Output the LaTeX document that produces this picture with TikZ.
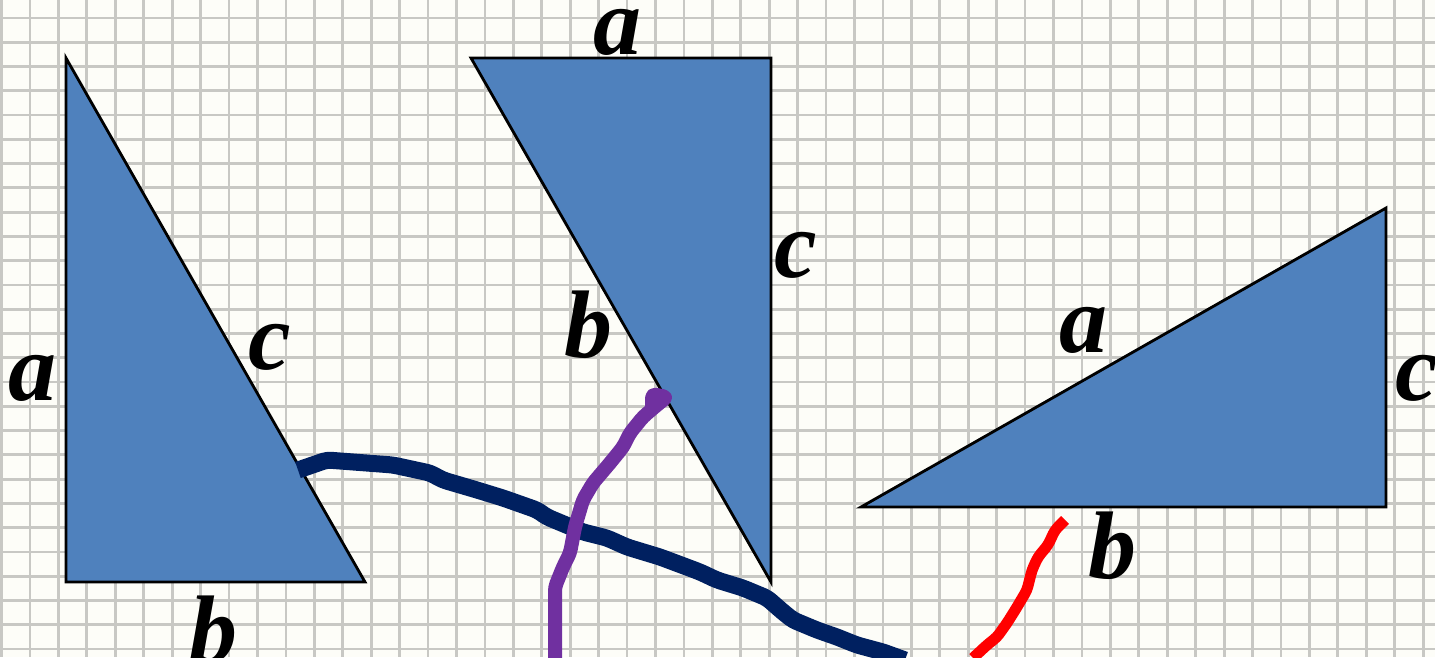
\documentclass[tikz,border=0pt]{standalone}
\usepackage{fontspec}
\setmainfont{Liberation Serif}
\definecolor{bgc}{RGB}{253,253,248}
\definecolor{gridc}{RGB}{200,200,196}
\definecolor{tri}{RGB}{79,129,189}
\definecolor{navy}{RGB}{0,32,96}
\definecolor{purp}{RGB}{112,48,160}
\tikzset{
  triangle/.style={fill=tri,draw=black,line width=2.8pt,line join=miter},
  lbl/.style={inner sep=0pt,font=\fontsize{96}{96}\selectfont\bfseries\itshape},
  stroke/.style={line width=#1,line cap=butt,line join=round,rounded corners=4pt}
}
\begin{document}
\begin{tikzpicture}[x=1pt,y=-1pt]
\useasboundingbox (0,0) rectangle (1435,657);
\fill[bgc] (0,0) rectangle (1435,657);
% grid
\foreach \k in {0,...,51} {
  \draw[gridc,line width=2.8pt] ({1.6+28.43*\k},0) -- ({1.6+28.43*\k},657);
}
\foreach \k in {0,...,27} {
  \draw[gridc,line width=2.8pt] (0,{18+24.27*\k}) -- (1435,{18+24.27*\k});
}
% triangles
\draw[triangle] (66,58) -- (66,582) -- (365,582) -- cycle;
\draw[triangle] (471,58) -- (771,58) -- (771,582) -- cycle;
\draw[triangle] (861,507) -- (1386,507) -- (1386,208) -- cycle;
% labels
\node[lbl] (t1a) at (33,378) {a};
\node[lbl] (t1c) at (270,347) {c};
\node[lbl] (t1b) at (213,630) {b};
\node[lbl] (t2a) at (617,32) {a};
\node[lbl] (t2c) at (796,255) {c};
\node[lbl] (t2b) at (588,325) {b};
\node[lbl] (t3a) at (1083,330) {a};
\node[lbl] (t3c) at (1417,378) {c};
\node[lbl] (t3b) at (1112,546) {b};
% freehand strokes
\draw[navy,stroke=17pt] (298,470) -- (327,460) -- (393,465) -- (430,473) -- (443,480) -- (477,490) -- (503,498) -- (537,510) -- (547,517) -- (583,532) -- (607,538) -- (627,547) -- (660,557) -- (700,572) -- (717,580) -- (743,588) -- (767,598) -- (783,612) -- (793,620) -- (817,630) -- (837,637) -- (857,645) -- (883,652) -- (905,660);
\draw[purp,stroke=14pt] (652,408) -- (652,394) -- (667,397) -- (657,405) -- (643,417) -- (630,433) -- (623,447) -- (610,463) -- (593,483) -- (583,500) -- (575,527) -- (570,553) -- (563,567) -- (555,587) -- (555,660);
\draw[red,stroke=11pt] (1065,520) -- (1055,530) -- (1048,545) -- (1038,557) -- (1032,570) -- (1027,590) -- (1017,607) -- (1007,623) -- (997,637) -- (987,645) -- (973,658);
\end{tikzpicture}
\end{document}
